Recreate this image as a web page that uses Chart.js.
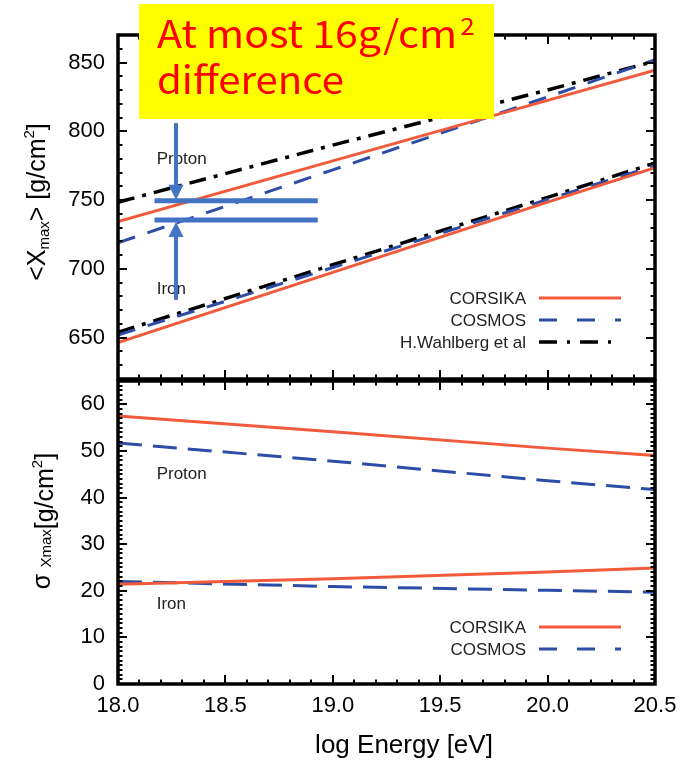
<!DOCTYPE html>
<html><head><meta charset="utf-8">
<script src="https://cdn.jsdelivr.net/npm/chart.js@4.4.0/dist/chart.umd.min.js"></script>
<style>
html,body{margin:0;padding:0;background:#fff;}
#wrap{position:relative;width:684px;height:763px;overflow:hidden;background:#fff;}
.pane{position:absolute;left:0;width:684px;}
</style></head><body>
<div id="wrap">
  <div class="pane" style="top:0;height:381px"><canvas id="ca" width="684" height="381"></canvas></div>
  <div class="pane" style="top:370px;height:393px"><canvas id="cb" width="684" height="393"></canvas></div>
</div>
<script>
const FONT = '"Liberation Sans", Arial, Helvetica, sans-serif';
const FONT_JP = '"Noto Sans CJK JP", "Noto Sans", sans-serif';

// ---- data ----
const energy = [18.0, 19.0, 20.0, 20.5];
const xmaxProtonCorsika  = [734.5, 778.5, 822.5, 844.5];
const xmaxProtonCosmos   = [719.0, 772.0, 825.0, 852.0];
const xmaxProtonWahlberg = [748.5, 790.0, 830.0, 851.0];
const xmaxIronCorsika    = [646.5, 697.5, 748.5, 773.5];
const xmaxIronCosmos     = [652.0, 701.0, 750.5, 775.0];
const xmaxIronWahlberg   = [654.0, 703.0, 752.0, 777.0];
const sigmaProtonCorsika = [57.5, 54.1, 50.6, 49.0];
const sigmaProtonCosmos  = [51.7, 47.8, 43.6, 41.7];
const sigmaIronCorsika   = [21.4, 22.6, 24.0, 24.9];
const sigmaIronCosmos    = [22.0, 20.9, 20.1, 19.7];
const xTicks = [18.0, 18.5, 19.0, 19.5, 20.0, 20.5];
const xmaxTicks = [650, 700, 750, 800, 850];
const sigmaTicks = [0, 10, 20, 30, 40, 50, 60];
const legendTopLabels = ['CORSIKA', 'COSMOS', 'H.Wahlberg et al'];
const legendBottomLabels = ['CORSIKA', 'COSMOS'];
// annotation (data units)
const diffLines = [749.5, 735.5];
const diffLineX = [18.17, 18.93];
const arrowX = 18.27;
const arrowStarts = [806, 677.5];

const RED = '#F15A3A', BLUE = '#2D4CA6', BLACK = '#000000', ARROW = '#4472C4';
const DASH_COSMOS_TOP = [18, 13], DASH_COSMOS_BOT = [24, 11], DASH_WAHL = [17, 8, 4, 8];

function ds(ys, color, dash, width) {
  return { data: energy.map((x, i) => ({ x, y: ys[i] })), borderColor: color, borderDash: dash,
           borderWidth: width, pointRadius: 0, fill: false, tension: 0 };
}

function zeroPad(s) { s.paddingTop = 0; s.paddingBottom = 0; s.paddingLeft = 0; s.paddingRight = 0; }

function drawFrameTicks(chart, yStep, yMajorEvery) {
  const { ctx, chartArea: a, scales: { x, y } } = chart;
  ctx.save();
  ctx.strokeStyle = '#000'; ctx.setLineDash([]); ctx.lineWidth = 2;
  ctx.beginPath();
  const nx = Math.round((x.max - x.min) / 0.1);
  for (let i = 0; i <= nx; i++) {
    const v = x.min + i * 0.1;
    const L = (i % 5 === 0) ? 9 : 4.5;
    const px = Math.round(x.getPixelForValue(v));
    ctx.moveTo(px, a.bottom); ctx.lineTo(px, a.bottom - L);
    ctx.moveTo(px, a.top); ctx.lineTo(px, a.top + L);
  }
  const ny = Math.round((y.max - y.min) / yStep);
  for (let i = 0; i <= ny; i++) {
    const v = y.min + i * yStep;
    const L = (Math.abs(v % yMajorEvery) < 1e-6) ? 9 : 4.5;
    const py = Math.round(y.getPixelForValue(v));
    ctx.moveTo(a.left, py); ctx.lineTo(a.left + L, py);
    ctx.moveTo(a.right, py); ctx.lineTo(a.right - L, py);
  }
  ctx.stroke();
  ctx.lineWidth = 3.5;
  ctx.strokeRect(a.left, a.top, a.right - a.left, a.bottom - a.top);
  ctx.restore();
}

function drawRich(ctx, parts, x, y, rotate, align) {
  let total = 0;
  parts.forEach(p => { ctx.font = p.size + 'px ' + FONT; p.w = ctx.measureText(p.t).width; total += p.w; });
  ctx.save();
  ctx.translate(x, y);
  if (rotate) ctx.rotate(-Math.PI / 2);
  ctx.textAlign = 'left'; ctx.textBaseline = 'alphabetic'; ctx.fillStyle = '#000';
  let cx = align === 'center' ? -total / 2 : 0;
  parts.forEach(p => { ctx.font = p.size + 'px ' + FONT; ctx.fillText(p.t, cx, p.dy || 0); cx += p.w; });
  ctx.restore();
}

function drawLegend(ctx, rows) {
  ctx.save();
  rows.forEach(r => {
    ctx.font = '17px ' + FONT; ctx.fillStyle = '#222'; ctx.textAlign = 'right'; ctx.textBaseline = 'middle';
    ctx.fillText(r.label, 526, r.y + 1);
    ctx.strokeStyle = r.color; ctx.lineWidth = r.w; ctx.setLineDash(r.dash);
    ctx.beginPath(); ctx.moveTo(539, r.y); ctx.lineTo(621, r.y); ctx.stroke();
  });
  ctx.setLineDash([]);
  ctx.restore();
}

function label(ctx, t, px, py) {
  ctx.save(); ctx.font = '17px ' + FONT; ctx.fillStyle = '#222';
  ctx.textAlign = 'left'; ctx.textBaseline = 'middle'; ctx.fillText(t, px, py); ctx.restore();
}

function arrow(ctx, x, y0, y1) {
  const dir = Math.sign(y1 - y0);
  ctx.beginPath(); ctx.moveTo(x, y0); ctx.lineTo(x, y1 - dir * 13); ctx.stroke();
  ctx.beginPath(); ctx.moveTo(x, y1); ctx.lineTo(x - 7.5, y1 - dir * 15); ctx.lineTo(x + 7.5, y1 - dir * 15); ctx.closePath(); ctx.fill();
}

const topPlugin = {
  id: 'topDeco',
  afterDraw(chart) {
    const { ctx, scales: { x, y } } = chart;
    drawFrameTicks(chart, 10, 50);
    drawRich(ctx, [
      { t: '<X', size: 25 }, { t: 'max', size: 15, dy: 4 }, { t: '> [g/cm', size: 25 },
      { t: '2', size: 15, dy: -11 }, { t: ']', size: 25 }], 44.5, 202, true, 'center');
    label(ctx, 'Proton', x.getPixelForValue(18.18), y.getPixelForValue(780));
    label(ctx, 'Iron', x.getPixelForValue(18.18), y.getPixelForValue(685.5));
    ctx.save();
    ctx.strokeStyle = ARROW; ctx.fillStyle = ARROW;
    ctx.lineWidth = 5;
    diffLines.forEach(v => {
      const py = y.getPixelForValue(v);
      ctx.beginPath(); ctx.moveTo(x.getPixelForValue(diffLineX[0]), py); ctx.lineTo(x.getPixelForValue(diffLineX[1]), py); ctx.stroke();
    });
    ctx.lineWidth = 4;
    const ax = x.getPixelForValue(arrowX);
    arrow(ctx, ax, y.getPixelForValue(arrowStarts[0]), y.getPixelForValue(diffLines[0]) - 1);
    arrow(ctx, ax, y.getPixelForValue(arrowStarts[1]), y.getPixelForValue(diffLines[1]) + 2);
    ctx.restore();
    drawLegend(ctx, [
      { label: legendTopLabels[0], y: 298, color: RED, w: 3, dash: [] },
      { label: legendTopLabels[1], y: 320, color: BLUE, w: 3, dash: [18, 20] },
      { label: legendTopLabels[2], y: 342, color: BLACK, w: 3.5, dash: [18, 10, 3, 10] }]);
    ctx.save();
    ctx.fillStyle = '#FFFF00'; ctx.fillRect(139, 4, 355, 115);
    ctx.fillStyle = '#FF0000'; ctx.textAlign = 'left'; ctx.textBaseline = 'alphabetic';
    ctx.font = '38px ' + FONT_JP;
    const l1 = 'At most 16g/cm', l2 = 'difference';
    const w1 = ctx.measureText(l1).width, w2 = ctx.measureText(l2).width;
    ctx.save(); ctx.translate(157, 48); ctx.scale(300 / w1, 1); ctx.fillText(l1, 0, 0);
    ctx.font = '24px ' + FONT_JP; ctx.fillText('2', w1 + 3, -13); ctx.restore();
    ctx.save(); ctx.translate(157, 94); ctx.scale(187 / w2, 1); ctx.font = '38px ' + FONT_JP; ctx.fillText(l2, 0, 0); ctx.restore();
    ctx.restore();
  }
};

const botPlugin = {
  id: 'botDeco',
  afterDraw(chart) {
    const { ctx, scales: { x, y } } = chart;
    drawFrameTicks(chart, 1, 10);
    drawRich(ctx, [
      { t: 'σ', size: 25, dy: -3 }, { t: ' ', size: 22 }, { t: 'Xmax', size: 15, dy: -2 }, { t: '[g/cm', size: 25 },
      { t: '2', size: 15, dy: -11 }, { t: ']', size: 25 }], 53, 151, true, 'center');
    drawRich(ctx, [{ t: 'log Energy [eV]', size: 26 }], 404, 383, false, 'center');
    label(ctx, 'Proton', x.getPixelForValue(18.18), y.getPixelForValue(45.0));
    label(ctx, 'Iron', x.getPixelForValue(18.18), y.getPixelForValue(17.1));
    drawLegend(ctx, [
      { label: legendBottomLabels[0], y: 257, color: RED, w: 3, dash: [] },
      { label: legendBottomLabels[1], y: 279, color: BLUE, w: 3, dash: [18, 20] }]);
  }
};

const tickFont = { family: FONT, size: 22 };

new Chart(document.getElementById('ca'), {
  type: 'line',
  data: { datasets: [
    ds(xmaxProtonCorsika, RED, [], 3), ds(xmaxProtonCosmos, BLUE, DASH_COSMOS_TOP, 3), ds(xmaxProtonWahlberg, BLACK, DASH_WAHL, 3.5),
    ds(xmaxIronCorsika, RED, [], 3), ds(xmaxIronCosmos, BLUE, DASH_COSMOS_TOP, 3), ds(xmaxIronWahlberg, BLACK, DASH_WAHL, 3.5)] },
  options: {
    responsive: false, animation: false, devicePixelRatio: 1,
    layout: { padding: { top: 35, bottom: 2, right: 29, left: 0 } },
    plugins: { legend: { display: false }, tooltip: { enabled: false } },
    scales: {
      x: { type: 'linear', min: 18, max: 20.5, display: false, afterFit: zeroPad },
      y: { type: 'linear', min: 620, max: 870,
           afterFit(s) { s.width = 118; zeroPad(s); },
           afterBuildTicks(s) { s.ticks = xmaxTicks.map(v => ({ value: v })); },
           grid: { display: false, drawTicks: false }, border: { display: false },
           ticks: { padding: 13, font: tickFont, color: '#000' } }
    }
  },
  plugins: [topPlugin]
});

new Chart(document.getElementById('cb'), {
  type: 'line',
  data: { datasets: [
    ds(sigmaProtonCorsika, RED, [], 3), ds(sigmaProtonCosmos, BLUE, DASH_COSMOS_BOT, 3),
    ds(sigmaIronCorsika, RED, [], 3), ds(sigmaIronCosmos, BLUE, DASH_COSMOS_BOT, 3)] },
  options: {
    responsive: false, animation: false, devicePixelRatio: 1,
    layout: { padding: { top: 11, bottom: 0, right: 29, left: 0 } },
    plugins: { legend: { display: false }, tooltip: { enabled: false } },
    scales: {
      x: { type: 'linear', min: 18, max: 20.5,
           afterFit(s) { s.height = 79; zeroPad(s); },
           afterBuildTicks(s) { s.ticks = xTicks.map(v => ({ value: v })); },
           grid: { display: false, drawTicks: false }, border: { display: false },
           ticks: { padding: 9, font: tickFont, color: '#000', maxRotation: 0, autoSkip: false,
                    callback: v => Number(v).toFixed(1) } },
      y: { type: 'linear', min: 0, max: 65,
           afterFit(s) { s.width = 118; zeroPad(s); },
           afterBuildTicks(s) { s.ticks = sigmaTicks.map(v => ({ value: v })); },
           grid: { display: false, drawTicks: false }, border: { display: false },
           ticks: { padding: 13, font: tickFont, color: '#000' } }
    }
  },
  plugins: [botPlugin]
});
</script>
</body></html>
